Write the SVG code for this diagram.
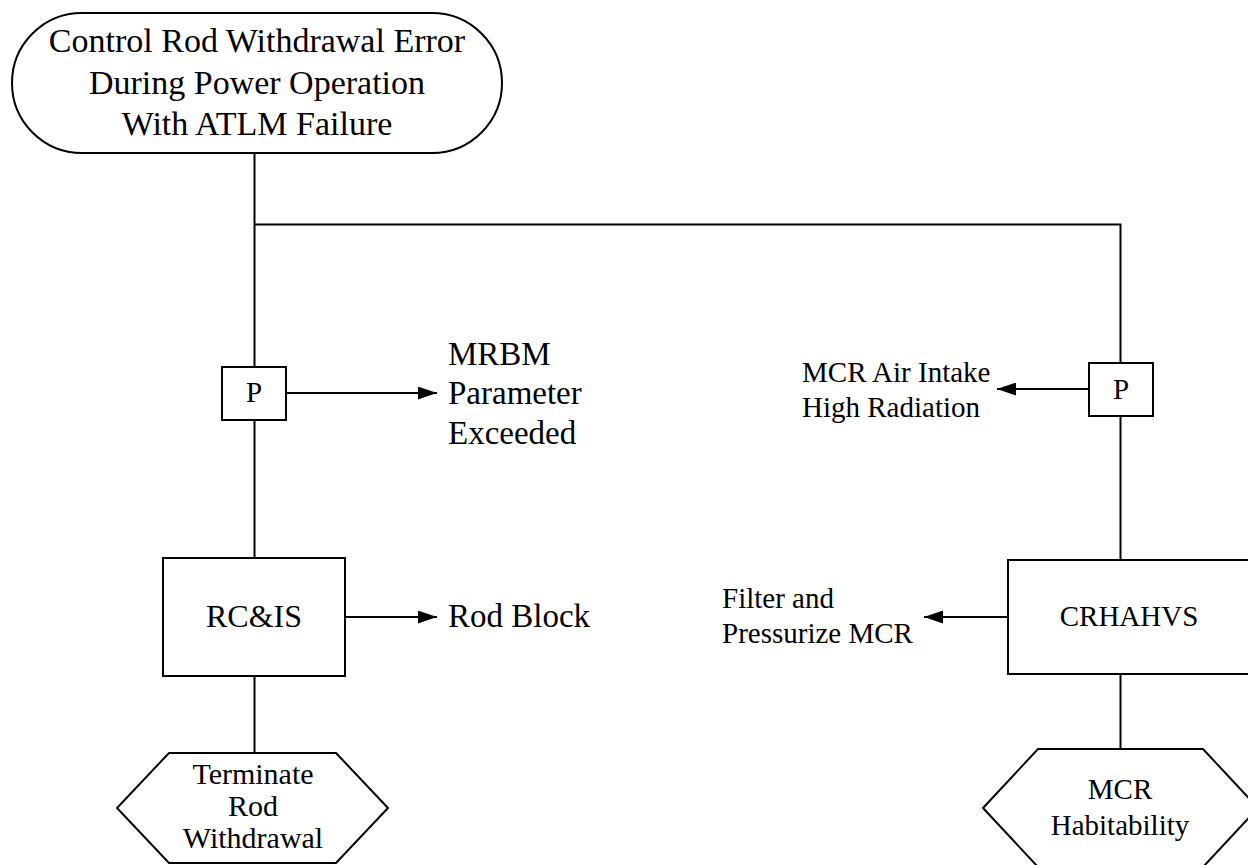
<svg xmlns="http://www.w3.org/2000/svg" width="1248" height="865" viewBox="0 0 1248 865">
<style>
.s{fill:#fff;stroke:#000;stroke-width:2}
.l{fill:none;stroke:#000;stroke-width:2}
text{font-family:'Liberation Serif','DejaVu Serif',serif;fill:#000}
.c{text-anchor:middle}
</style>
<defs>
<marker id="ah" markerWidth="19" markerHeight="13" refX="19" refY="6.5" orient="auto" markerUnits="userSpaceOnUse">
<path d="M0,0 L19,6.5 L0,13 Z" fill="#000"/>
</marker>
</defs>
<rect width="1248" height="865" fill="#fff"/>
<g id="connectors">
<path class="l" d="M254.5,153 V367"/>
<path class="l" d="M254.5,224.5 H1120.5 V363"/>
<path class="l" d="M254.5,420 V558"/>
<path class="l" d="M254.5,676 V753"/>
<path class="l" d="M1120.5,416 V560"/>
<path class="l" d="M1120.5,674 V749"/>
<path class="l" d="M286,393 H437" marker-end="url(#ah)"/>
<path class="l" d="M345,617 H437" marker-end="url(#ah)"/>
<path class="l" d="M1089,389 H997" marker-end="url(#ah)"/>
<path class="l" d="M1008,617 H924" marker-end="url(#ah)"/>
</g>
<g font-family="Liberation Serif, serif">
<g id="start">
<rect class="s" x="12" y="13" width="490" height="140" rx="70" ry="70"/>
<text class="c" font-size="34" x="257" y="52">Control Rod Withdrawal Error</text>
<text class="c" font-size="34" x="257" y="94">During Power Operation</text>
<text class="c" font-size="34" x="257" y="135">With ATLM Failure</text>
</g>
<g id="p-left">
<rect class="s" x="222" y="367" width="64" height="53"/>
<text class="c" font-size="29" x="254" y="402">P</text>
</g>
<g id="mrbm">
<text font-size="33" x="448" y="365">MRBM</text>
<text font-size="33" x="448" y="404">Parameter</text>
<text font-size="33" x="448" y="444">Exceeded</text>
</g>
<g id="rcis">
<rect class="s" x="163" y="558" width="182" height="118"/>
<text class="c" font-size="32" x="254" y="627">RC&amp;IS</text>
</g>
<g id="rodblock">
<text font-size="33" x="448" y="627">Rod Block</text>
</g>
<g id="terminate">
<polygon class="s" points="169,753 336,753 388,808 336,863 169,863 117,808"/>
<text class="c" font-size="30" x="253" y="784">Terminate</text>
<text class="c" font-size="30" x="253" y="816">Rod</text>
<text class="c" font-size="30" x="253" y="848">Withdrawal</text>
</g>
<g id="p-right">
<rect class="s" x="1089" y="363" width="64" height="53"/>
<text class="c" font-size="29" x="1121" y="399">P</text>
</g>
<g id="mcr-air">
<text font-size="29" x="802" y="382">MCR Air Intake</text>
<text font-size="29" x="802" y="417">High Radiation</text>
</g>
<g id="crhahvs">
<rect class="s" x="1008" y="560" width="242" height="114"/>
<text class="c" font-size="29" x="1129" y="626">CRHAHVS</text>
</g>
<g id="filter">
<text font-size="29" x="722" y="608">Filter and</text>
<text font-size="29" x="722" y="643">Pressurize MCR</text>
</g>
<g id="habitability">
<polygon class="s" points="1038,749 1203,749 1258,808 1203,867 1038,867 983,808"/>
<text class="c" font-size="29" x="1120" y="799">MCR</text>
<text class="c" font-size="29" x="1120" y="835">Habitability</text>
</g>
</g>
</svg>
